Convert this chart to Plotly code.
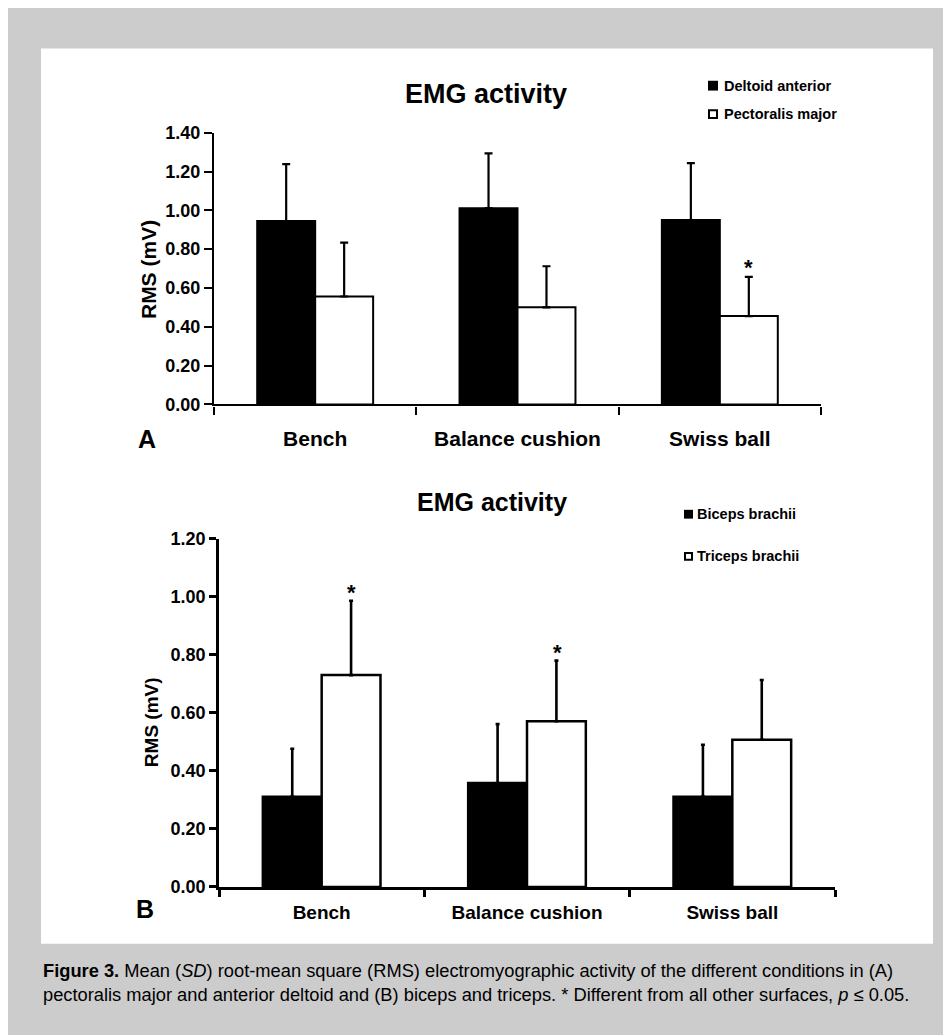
import plotly.graph_objects as go

# ---------------- data ----------------
categories = ["Bench", "Balance cushion", "Swiss ball"]

deltoid_mean = [0.945, 1.011, 0.950]
deltoid_sd = [0.293, 0.283, 0.293]
pectoralis_mean = [0.556, 0.500, 0.455]
pectoralis_sd = [0.278, 0.212, 0.202]

biceps_mean = [0.311, 0.358, 0.311]
biceps_sd = [0.165, 0.203, 0.179]
triceps_mean = [0.730, 0.571, 0.507]
triceps_sd = [0.256, 0.209, 0.206]

series_a = ["Deltoid anterior", "Pectoralis major"]
series_b = ["Biceps brachii", "Triceps brachii"]

star_a = [False, False, True]   # pectoralis major
star_b = [True, True, False]    # triceps brachii

W, H = 951, 1035
OFF = 8  # page body margin
FONT = "Liberation Sans, Arial, sans-serif"


def px(x):
    return (x - OFF) / W


def py(y):
    return 1 - (y - OFF) / H


fig = go.Figure()

# ---------------- panel A ----------------
fig.add_trace(go.Bar(
    x=categories, y=deltoid_mean, name=series_a[0], showlegend=False,
    marker=dict(color="black", line=dict(color="black", width=2)),
    error_y=dict(type="data", array=deltoid_sd, arrayminus=[0] * 3, symmetric=False,
                 color="black", thickness=2.2, width=4),
    xaxis="x", yaxis="y"))
fig.add_trace(go.Bar(
    x=categories, y=pectoralis_mean, name=series_a[1], showlegend=False,
    marker=dict(color="white", line=dict(color="black", width=2)),
    error_y=dict(type="data", array=pectoralis_sd, arrayminus=[0] * 3, symmetric=False,
                 color="black", thickness=2.2, width=4),
    xaxis="x", yaxis="y"))

# ---------------- panel B ----------------
fig.add_trace(go.Bar(
    x=categories, y=biceps_mean, name=series_b[0], showlegend=False,
    marker=dict(color="black", line=dict(color="black", width=2.5)),
    error_y=dict(type="data", array=biceps_sd, arrayminus=[0] * 3, symmetric=False,
                 color="black", thickness=2.6, width=2),
    xaxis="x2", yaxis="y2"))
fig.add_trace(go.Bar(
    x=categories, y=triceps_mean, name=series_b[1], showlegend=False,
    marker=dict(color="white", line=dict(color="black", width=2.5)),
    error_y=dict(type="data", array=triceps_sd, arrayminus=[0] * 3, symmetric=False,
                 color="black", thickness=2.6, width=2),
    xaxis="x2", yaxis="y2"))

annotations = []
# significance stars
for c, m, s, flag in zip(categories, pectoralis_mean, pectoralis_sd, star_a):
    if flag:
        annotations.append(dict(x=c, y=m + s, xref="x", yref="y", text="*", showarrow=False,
                                xshift=29, yanchor="bottom", yshift=-5,
                                font=dict(family=FONT, size=22, color="black", weight="bold")))
for c, m, s, flag in zip(categories, triceps_mean, triceps_sd, star_b):
    if flag:
        annotations.append(dict(x=c, y=m + s, xref="x2", yref="y2", text="*", showarrow=False,
                                xshift=30, yanchor="bottom", yshift=-6,
                                font=dict(family=FONT, size=22, color="black", weight="bold")))

# titles, panel letters, axis titles, caption
annotations += [
    dict(x=px(486), y=py(85), xref="paper", yref="paper", text="EMG activity", showarrow=False,
         xanchor="center", yanchor="middle", font=dict(family=FONT, size=27, color="black", weight="bold")),
    dict(x=px(492), y=py(502), xref="paper", yref="paper", text="EMG activity", showarrow=False,
         xanchor="center", yanchor="middle", font=dict(family=FONT, size=25, color="black", weight="bold")),
    dict(x=px(147), y=py(437), xref="paper", yref="paper", text="A", showarrow=False,
         xanchor="center", yanchor="middle", font=dict(family=FONT, size=25, color="black", weight="bold")),
    dict(x=px(145), y=py(917), xref="paper", yref="paper", text="B", showarrow=False,
         xanchor="center", yanchor="middle", font=dict(family=FONT, size=25, color="black", weight="bold")),
    dict(x=px(148), y=py(265), xref="paper", yref="paper", text="RMS (mV)", showarrow=False,
         textangle=-90, xanchor="center", yanchor="middle",
         font=dict(family=FONT, size=21, color="black", weight="bold")),
    dict(x=px(151), y=py(726), xref="paper", yref="paper", text="RMS (mV)", showarrow=False,
         textangle=-90, xanchor="center", yanchor="middle",
         font=dict(family=FONT, size=19, color="black", weight="bold")),
    dict(x=px(41), y=py(991), xref="paper", yref="paper",
         text="<b>Figure 3.</b> Mean (<i>SD</i>) root-mean square (RMS) electromyographic activity of the different conditions in (A)"
              "<br>pectoralis major and anterior deltoid and (B) biceps and triceps. * Different from all other surfaces, <i>p</i> ≤ 0.05.",
         showarrow=False, xanchor="left", yanchor="middle", align="left",
         font=dict(family=FONT, size=18.3, color="black")),
]

shapes = [
    dict(type="rect", xref="paper", yref="paper", x0=px(41), x1=px(933), y0=py(952), y1=py(39),
         fillcolor="white", line=dict(width=0), layer="below"),
]

# legend keys (square swatch + label)
legend_items = [
    (series_a[0], "black", 708, 77, 10, 722),
    (series_a[1], "white", 708, 106, 10, 722),
    (series_b[0], "black", 684, 514, 9, 695),
    (series_b[1], "white", 684, 557, 9, 695),
]
for name, fill, sx, cy, size, tx in legend_items:
    if fill == "black":
        shapes.append(dict(type="rect", xref="paper", yref="paper",
                           x0=px(sx), x1=px(sx + size), y0=py(cy + size / 2), y1=py(cy - size / 2),
                           fillcolor="black", line=dict(width=0)))
    else:
        shapes.append(dict(type="rect", xref="paper", yref="paper",
                           x0=px(sx + 1), x1=px(sx + size - 1), y0=py(cy + size / 2 - 1), y1=py(cy - size / 2 + 1),
                           fillcolor="white", line=dict(color="black", width=2)))
    annotations.append(dict(x=px(tx), y=py(cy), xref="paper", yref="paper", text=name, showarrow=False,
                            xanchor="left", yanchor="middle",
                            font=dict(family=FONT, size=14.5, color="black", weight="bold")))

tickfont = dict(family=FONT, size=18, color="black", weight="bold")

fig.update_layout(
    width=W, height=H, margin=dict(l=0, r=0, t=0, b=0),
    paper_bgcolor="#cccccc", plot_bgcolor="rgba(0,0,0,0)",
    barmode="group", bargap=0.427, showlegend=False,
    annotations=annotations, shapes=shapes,
    xaxis=dict(domain=[px(214), px(821)], anchor="y", type="category", range=[-0.5, 2.5],
               showline=True, linecolor="black", linewidth=2.4, ticks="outside", tickson="boundaries",
               ticklen=8, tickwidth=2.4, tickcolor="black", showgrid=False, zeroline=False,
               ticklabelstandoff=14,
               tickfont=dict(family=FONT, size=21, color="black", weight="bold")),
    yaxis=dict(domain=[py(402), py(125)], anchor="x", range=[0, 1.4], dtick=0.2, tick0=0,
               tickformat=".2f", showline=True, linecolor="black", linewidth=2.4, ticks="outside",
               ticklen=8, tickwidth=2.4, tickcolor="black", showgrid=False, zeroline=False,
               tickfont=tickfont),
    xaxis2=dict(domain=[px(219), px(835)], anchor="y2", type="category", range=[-0.5, 2.5],
                showline=True, linecolor="black", linewidth=2.8, ticks="outside", tickson="boundaries",
                ticklen=7, tickwidth=2.8, tickcolor="black", showgrid=False, zeroline=False,
                ticklabelstandoff=6,
                tickfont=dict(family=FONT, size=19, color="black", weight="bold")),
    yaxis2=dict(domain=[py(894), py(539)], anchor="x2", range=[0, 1.2], dtick=0.2, tick0=0,
                tickformat=".2f", showline=True, linecolor="black", linewidth=2.8, ticks="outside",
                ticklen=7, tickwidth=2.8, tickcolor="black", showgrid=False, zeroline=False,
                tickfont=tickfont),
)

fig.write_html("out.html")
